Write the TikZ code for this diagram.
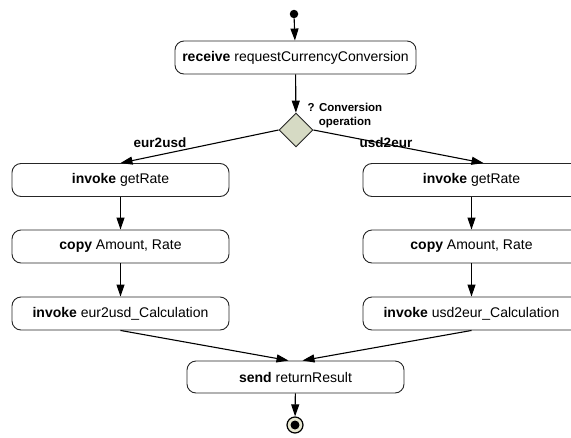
\documentclass[tikz,border=0pt]{standalone}
\usepackage{fontspec}
\setmainfont{Liberation Sans}
\usetikzlibrary{shapes.geometric,arrows.meta}
\definecolor{dfill}{RGB}{214,218,196}
\definecolor{efill}{RGB}{232,232,210}
\begin{document}
\begin{tikzpicture}[x=1pt,y=-1pt,
  act/.style={draw=black!85,line width=0.9pt,rounded corners=9pt,minimum width=217pt,minimum height=33pt,inner sep=0pt,font=\fontsize{14}{16}\selectfont},
  flow/.style={line width=1.1pt,-{Triangle[length=12pt,width=8pt]}},
  lbl/.style={font=\fontsize{13.5}{16}\selectfont\bfseries}]
\useasboundingbox (0,0) rectangle (571,437);
\clip (0,0) rectangle (571,437);
\node[circle,fill=black,minimum size=8.5pt,inner sep=0pt] (start) at (294,14) {};
\node[act,minimum width=241pt] (recv) at (295.5,57.5) {\textbf{receive} requestCurrencyConversion};
\node[diamond,draw=black!85,line width=0.9pt,fill=dfill,minimum width=34pt,minimum height=34pt,inner sep=0pt] (dec) at (296,130) {};
\node[font=\fontsize{11.5}{14}\selectfont\bfseries,align=center] (q) at (345,116) {? Conversion\\operation};
\node[act] (l1) at (120.5,180) {\textbf{invoke} getRate};
\node[act] (l2) at (120.5,246.5) {\textbf{copy} Amount, Rate};
\node[act] (l3) at (120.5,313.5) {\textbf{invoke} eur2usd\_Calculation};
\node[act] (r1) at (471.5,180) {\textbf{invoke} getRate};
\node[act] (r2) at (471.5,246.5) {\textbf{copy} Amount, Rate};
\node[act] (r3) at (471.5,313.5) {\textbf{invoke} usd2eur\_Calculation};
\node[act,minimum height=32pt] (send) at (295.5,377) {\textbf{send} returnResult};
\node[circle,draw=black,line width=1.2pt,fill=efill,minimum size=16pt,inner sep=0pt] (end) at (295,425) {};
\node[circle,fill=black,minimum size=9pt,inner sep=0pt] at (end) {};
\node[lbl] (el) at (160,142.5) {eur2usd};
\node[lbl] (ul) at (386,142.5) {usd2eur};
\draw[flow] (start) -- (recv);
\draw[flow] (recv) -- (dec);
\draw[flow] (dec.west) -- (l1.north);
\draw[flow] (dec.east) -- ([xshift=12pt]r1.north);
\draw[flow] (l1) -- (l2);
\draw[flow] (l2) -- (l3);
\draw[flow] (r1) -- (r2);
\draw[flow] (r2) -- (r3);
\draw[flow] (l3.south) -- ([xshift=-7pt]send.north);
\draw[flow] (r3.south) -- ([xshift=7pt]send.north);
\draw[flow] (send) -- (end);
\end{tikzpicture}
\end{document}
